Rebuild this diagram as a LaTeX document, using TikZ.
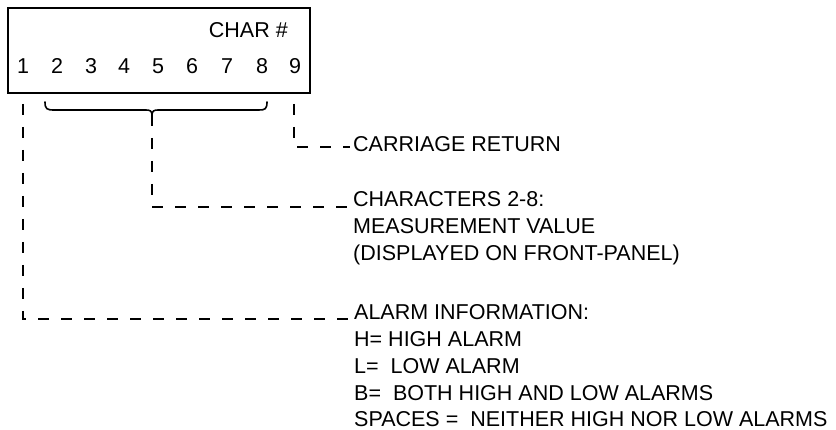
\documentclass[tikz,border=0pt]{standalone}
\usepackage{fontspec}
\setmainfont{Liberation Sans}
\begin{document}
\begin{tikzpicture}[x=1pt,y=-1pt,
  lbl/.style={inner sep=0pt,anchor=base west,font=\fontsize{21.5}{27}\selectfont},
  dig/.style={inner sep=0pt,anchor=base,font=\fontsize{21.5}{27}\selectfont},
  leader/.style={line width=2pt,dash pattern=on 11pt off 12pt},
  boxline/.style={line width=2pt},
  bracepath/.style={line width=1.6pt,line cap=round}]
\useasboundingbox (0,0) rectangle (836,430);
\node[boxline,draw,minimum width=302pt,minimum height=85pt,inner sep=0pt,anchor=north west] (box) at (7,7) {};
\node[inner sep=0pt,anchor=base east,font=\fontsize{21.5}{27}\selectfont] (charhead) at (288,38) {CHAR \#};
\foreach \i/\x in {1/23,2/57,3/91,4/124,5/158,6/192,7/227,8/262,9/295}
  \node[dig] (d\i) at (\x,74) {\i};
% brace under 2-8
\coordinate (bl) at (45,102);
\coordinate (br) at (267,102);
\coordinate (bm) at (152,115);
\draw[bracepath] (bl) .. controls (45,109) and (47,110) .. (54,110) -- (146,110)
  .. controls (150,110) and (152,111) .. (bm)
  .. controls (152,111) and (154,110) .. (158,110) -- (259,110)
  .. controls (265,110) and (267,109) .. (br);
% texts
\node[lbl] (cr) at (353,152) {CARRIAGE RETURN};
\node[lbl] (ch1) at (353,207) {CHARACTERS 2-8:};
\node[lbl] (ch2) at (353,234) {MEASUREMENT VALUE};
\node[lbl] (ch3) at (353,261) {(DISPLAYED ON FRONT-PANEL)};
\node[lbl] (al1) at (354,320) {ALARM INFORMATION:};
\node[lbl] (al2) at (354,347) {H= HIGH ALARM};
\node[lbl] (al3) at (354,374) {L=\ \ LOW ALARM};
\node[lbl] (al4) at (354,401) {B=\ \ BOTH HIGH AND LOW ALARMS};
\node[lbl] (al5) at (354,427) {SPACES =\ \ NEITHER HIGH NOR LOW ALARMS};
% leaders
\coordinate (s1) at (23,104);
\coordinate (s9) at (294,104);
\draw[leader] (s1) |- ([xshift=-3pt,yshift=1pt]al1.base west);
\draw[leader] (bm) |- ([xshift=-3pt]ch1.base west);
\draw[leader] (s9) |- ([xshift=-3pt,yshift=5pt]cr.base west);
\end{tikzpicture}
\end{document}
